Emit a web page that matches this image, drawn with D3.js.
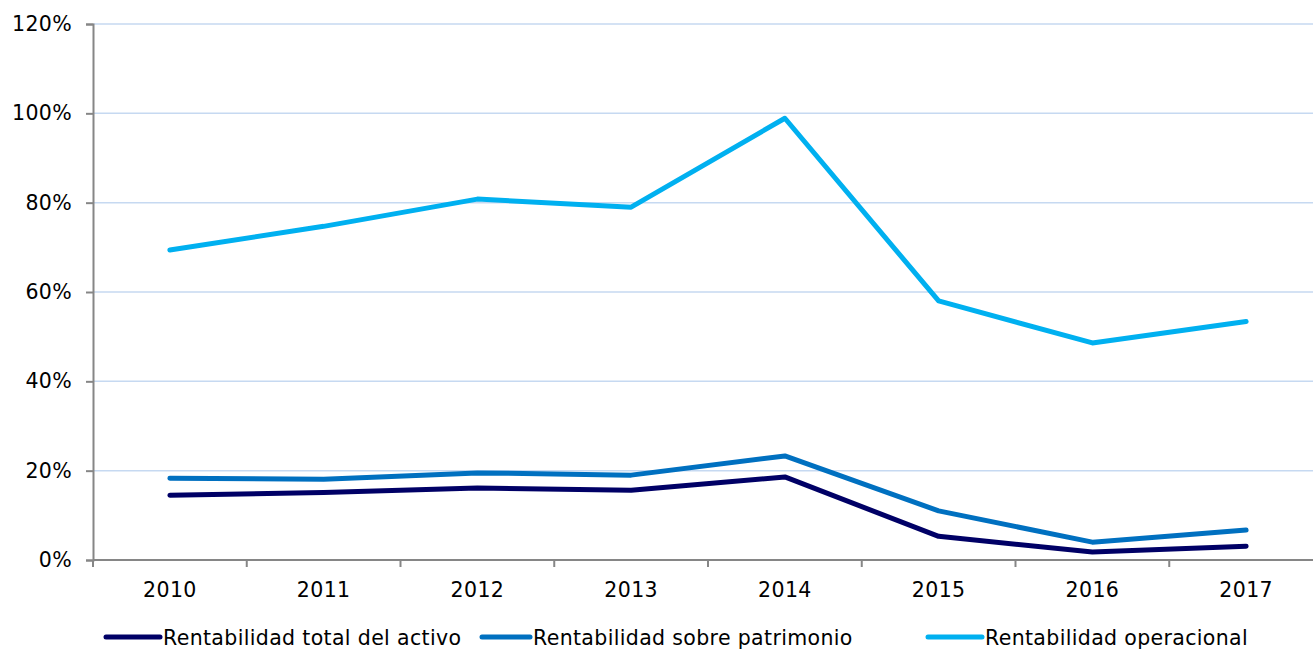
<!DOCTYPE html>
<html><head><meta charset="utf-8">
<script src="https://cdn.jsdelivr.net/npm/d3@7"></script>
<style>body{margin:0;background:#fff}svg{display:block}text{font-family:"DejaVu Sans",Verdana,sans-serif;fill:#000;letter-spacing:0.35px}</style>
</head><body>
<svg id="c" width="1313" height="649"></svg>
<script>
const years = ["2010","2011","2012","2013","2014","2015","2016","2017"];
const activo = [14.5, 15.1, 16.1, 15.6, 18.6, 5.3, 1.8, 3.1];
const patrimonio = [18.3, 18.1, 19.5, 19.0, 23.3, 11.0, 4.0, 6.7];
const operacional = [69.4, 74.7, 80.8, 79.0, 98.9, 58.0, 48.6, 53.4];
const yTicks = [0, 20, 40, 60, 80, 100, 120];
const seriesNames = ["Rentabilidad total del activo","Rentabilidad sobre patrimonio","Rentabilidad operacional"];
const colors = ["#000066","#0070C0","#00B0F0"];

const svg = d3.select("#c");
const mLeft = 93, mTop = 24, mBottom = 560, mRight = 1323;
const fs = "20.5px";
const x = d3.scaleBand().domain(years).range([mLeft, mRight]);
const y = d3.scaleLinear().domain([0,120]).range([mBottom, mTop]);

// gridlines
svg.append("g").selectAll("line").data(yTicks.filter(d=>d>0)).join("line")
  .attr("x1", mLeft).attr("x2", 1313).attr("y1", d=>y(d)).attr("y2", d=>y(d))
  .attr("stroke", "#C6D9F1").attr("stroke-width", 1.5);

// y axis
const ya = svg.append("g").attr("transform",`translate(${mLeft},0)`)
  .call(d3.axisLeft(y).tickValues(yTicks).tickFormat(d=>d+"%").tickSize(7).tickPadding(14));
ya.select(".domain").attr("stroke","#868686").attr("stroke-width",2);
ya.selectAll(".tick line").attr("stroke","#868686").attr("stroke-width",2);
ya.selectAll("text").style("font-size",fs);

// x axis
const xa = svg.append("g").attr("transform",`translate(0,${mBottom})`)
  .call(d3.axisBottom(x).tickSize(0).tickPadding(22));
xa.select(".domain").attr("stroke","#868686").attr("stroke-width",2).attr("d",`M${mLeft},0H1313`);
xa.selectAll("text").style("font-size",fs);
svg.append("g").selectAll("line").data(years).join("line")
  .attr("x1", d=>x(d)).attr("x2", d=>x(d)).attr("y1", mBottom).attr("y2", mBottom+7)
  .attr("stroke","#868686").attr("stroke-width",2);

const line = d3.line().x((d,i)=>x(years[i])+x.bandwidth()/2).y(d=>y(d));
[activo, patrimonio, operacional].forEach((s,i)=>{
  svg.append("path").attr("d", line(s)).attr("fill","none")
    .attr("stroke", colors[i]).attr("stroke-width",5)
    .attr("stroke-linecap","round").attr("stroke-linejoin","round");
});

// legend
const legX = [106, 482, 928];
const legW = [54, 48, 54];
seriesNames.forEach((n,i)=>{
  const g = svg.append("g").attr("transform",`translate(${legX[i]},637)`);
  g.append("line").attr("x1",0).attr("x2",legW[i]).attr("stroke",colors[i]).attr("stroke-width",5).attr("stroke-linecap","round");
  g.append("text").attr("x",legW[i]+3).attr("y",8).style("font-size",fs).text(n);
});
</script>
</body></html>
